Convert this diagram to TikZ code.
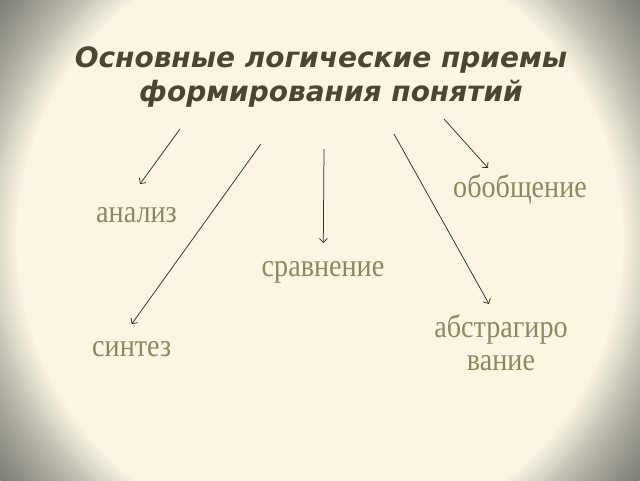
\documentclass[tikz,border=0pt]{standalone}
\usepackage{fontspec}
\usetikzlibrary{arrows.meta}
\newfontfamily\ttlfont{DejaVu Sans}
\newfontfamily\lblfont[FakeStretch=0.88]{Liberation Serif}
\definecolor{bgc}{HTML}{FBF5E2}
\definecolor{bgm}{HTML}{D9D6C6}
\definecolor{bge}{HTML}{7E7E76}
\definecolor{ttlc}{HTML}{4A4632}
\definecolor{lblc}{HTML}{8C8862}
\definecolor{arrc}{HTML}{333028}
\begin{document}
\begin{tikzpicture}[x=1pt,y=-1pt,
  lbl/.style={font=\lblfont\fontsize{32}{33}\selectfont, text=lblc, inner sep=0pt, anchor=base, align=center},
  ttl/.style={font=\ttlfont\bfseries\itshape\fontsize{28}{34}\selectfont, text=ttlc, inner sep=0pt, anchor=base, align=center},
  conn/.style={draw=arrc, line width=0.75pt, -{Straight Barb[length=4pt,width=8pt]}}]
\useasboundingbox (0,0) rectangle (640,480);
\begin{scope}
  \clip (0,0) rectangle (640,480);
  \fill[bge] (0,0) rectangle (640,480);
  \foreach \r in {400,398,...,326} {
    \pgfmathsetmacro\p{100*((\r-326)/74)^0.8}
    \fill[bge!\p!bgm] (320,240) circle (\r);
  }
  \foreach \r in {325,323,...,303} {
    \pgfmathsetmacro\p{100*(\r-303)/22}
    \fill[bgm!\p!bgc] (320,240) circle (\r);
  }
  \fill[bgc] (320,240) circle (302);
\end{scope}

\node[ttl] (title) at (321,101) {Основные логические приемы\\\hspace*{20pt}формирования понятий};

\node[lbl] (analiz) at (136.5,222) {анализ};
\node[lbl] (obob) at (520,197) {обобщение};
\node[lbl] (sravn) at (323,276) {сравнение};
\node[lbl] (sintez) at (131.7,356) {синтез};
\node[lbl] (abstr) at (501,370) {абстрагиро\\вание};

\coordinate (s1) at (180,129);
\coordinate (e1) at (140,184);
\coordinate (s2) at (260.7,144.3);
\coordinate (e2) at (131.7,324);
\coordinate (s3) at (324,149);
\coordinate (e3) at (323.3,243);
\coordinate (s4) at (394,134);
\coordinate (e4) at (489,304);
\coordinate (s5) at (444,119);
\coordinate (e5) at (488,168);

\draw[conn] (s1) -- (e1);
\draw[conn] (s2) -- (e2);
\draw[conn] (s3) -- (e3);
\draw[conn] (s4) -- (e4);
\draw[conn] (s5) -- (e5);
\end{tikzpicture}
\end{document}
